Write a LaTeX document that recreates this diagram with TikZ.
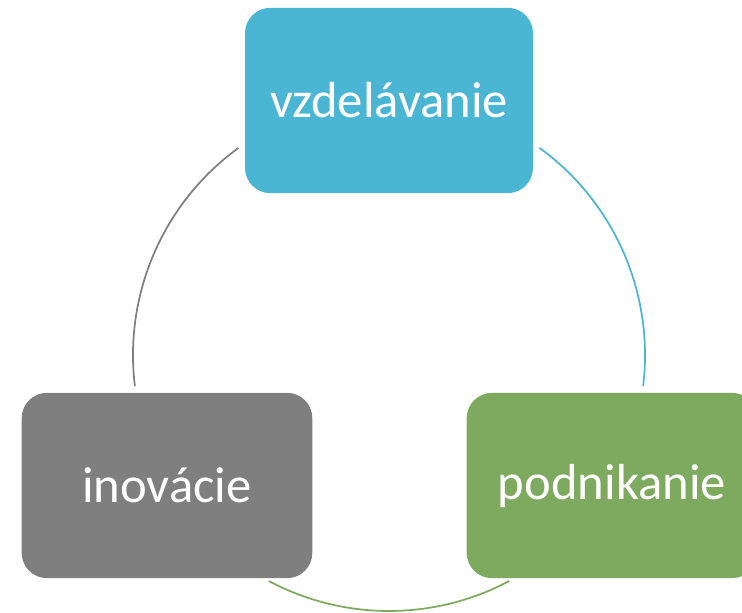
\documentclass[tikz,border=0pt]{standalone}
\usepackage{fontspec}
\setmainfont{Carlito}
\usetikzlibrary{positioning}
\definecolor{sky}{RGB}{75,182,212}
\definecolor{moss}{RGB}{126,170,96}
\definecolor{slate}{RGB}{127,127,127}
\tikzset{
  box/.style={fill=#1,text=white,rounded corners=19pt,
    minimum width=216pt,minimum height=139pt,align=center,
    font=\fontsize{38}{45}\selectfont},
  box/.default=sky,
  ring/.style={draw=#1,line width=1.3pt},
  ring/.default=slate,
}

\begin{document}
\begin{tikzpicture}[x=0.75pt,y=0.75pt]
  \useasboundingbox (0,0) rectangle (742,613);
  \clip (0,0) rectangle (742,613);
  \coordinate (mid) at (389,258);
  \node[box=sky] (vzd) at (389,512.5) {vzdelávanie};
  \node[box=slate,minimum width=218pt] (ino) at (167,127.5) {inovácie};
  \node[box=moss,minimum width=218pt] (pod) at (612,127.5) {podnikanie};
  % cycle
  \draw[ring=sky] (mid) ++(54:256) arc (54:-7:256);
  \draw[ring=slate] (mid) ++(126:256) arc (126:187:256);
  \draw[ring=moss] (mid) ++(242:256) arc (242:298:256);
\end{tikzpicture}
\end{document}
